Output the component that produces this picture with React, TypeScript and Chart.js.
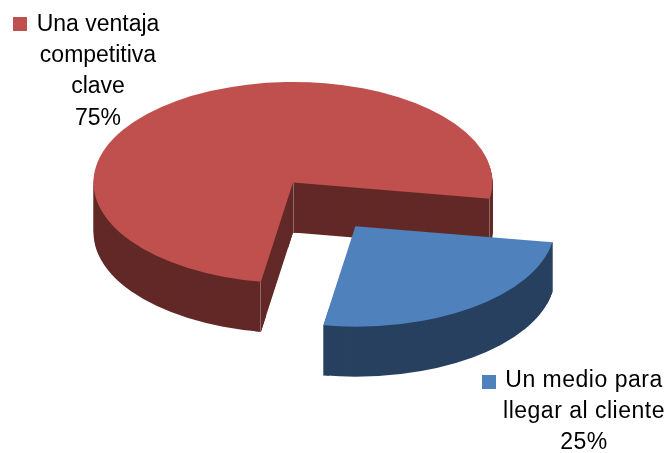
import React, { useEffect, useRef } from "react";
import { Chart, registerables } from "chart.js";

Chart.register(...registerables);

const categories = ["Una ventaja competitiva clave", "Un medio para llegar al cliente"];
const labelLines = [
  ["Una ventaja", "competitiva", "clave"],
  ["Un medio para", "llegar al cliente"],
];
const seriesValues = [75, 25];
const topColors = ["#C0504D", "#4F81BD"];
const sideColors = ["#612826", "#27405F"];

const FONT = '23px "Liberation Sans", Arial, sans-serif';
const CENTER_Y = 182.5;
const SQUASH = 0.5038;
const DEPTH = 50;
const STEP = 4;

const flatten = (ctx: CanvasRenderingContext2D, chart: any, dy: number) => {
  const a = chart.chartArea;
  const cy = (a.top + a.bottom) / 2;
  ctx.translate(0, CENTER_Y + dy);
  ctx.scale(1, SQUASH);
  ctx.translate(0, -cy);
};

const pie3d = {
  id: "pie3d",
  beforeDatasetDraw(chart: any, args: any) {
    const ctx = chart.ctx as CanvasRenderingContext2D;
    const arcs = args.meta.data;
    arcs.forEach((arc: any, i: number) => {
      const own = arc.options;

      const mid = (arc.startAngle + arc.endAngle) / 2;
      const off = (own.offset || 0) / 4;
      const ox = arc.x + Math.cos(mid) * off;
      const oy = Math.sin(mid) * off * SQUASH + CENTER_Y;
      const r = arc.outerRadius;
      const start = [ox + Math.cos(arc.startAngle) * r, oy + Math.sin(arc.startAngle) * r * SQUASH];
      const end = [ox + Math.cos(arc.endAngle) * r, oy + Math.sin(arc.endAngle) * r * SQUASH];
      const corners = i === 0 ? [[ox, oy], start, end] : [start, end];

      arc.options = { ...own, backgroundColor: sideColors[i], borderColor: sideColors[i] };
      // few copies, stacked underneath, so that opaque pixels are not re-blended
      for (let d = DEPTH % STEP || STEP; d <= DEPTH; d += STEP) {
        ctx.save();
        ctx.globalCompositeOperation = "destination-over";
        flatten(ctx, chart, d);
        arc.draw(ctx);
        ctx.restore();
      }
      // the sharp tips need every pixel step, in narrow bands around the corners
      corners.forEach(([x]) => {
        ctx.save();
        ctx.beginPath();
        ctx.rect(Math.floor(x) - 5, 0, 11, chart.height);
        ctx.clip();
        ctx.globalCompositeOperation = "destination-over";
        for (let d = 1; d <= DEPTH; d += 1) {
          ctx.save();
          flatten(ctx, chart, d);
          arc.draw(ctx);
          ctx.restore();
        }
        ctx.restore();
      });
      arc.options = own;

      // vertical corners of the slice wall: a solid edge with a thin highlight
      ctx.save();
      ctx.lineWidth = 1;
      [sideColors[i], "rgba(255,255,255,0.3)"].forEach((colour) => {
        ctx.strokeStyle = colour;
        corners.forEach(([x, y]) => {
          ctx.beginPath();
          ctx.moveTo(Math.floor(x) + 0.5, y);
          ctx.lineTo(Math.floor(x) + 0.5, y + DEPTH);
          ctx.stroke();
        });
      });
      ctx.restore();

      ctx.save();
      flatten(ctx, chart, 0);
      arc.draw(ctx);
      ctx.restore();
    });
    return false;
  },
  afterDraw(chart: any) {
    const ctx = chart.ctx as CanvasRenderingContext2D;
    const boxes = [
      { key: [13, 17], cx: 98, base: 31, spacing: "0px" },
      { key: [482, 375], cx: 584, base: 387, spacing: "0.5px" },
    ];
    ctx.save();
    ctx.font = FONT;
    ctx.textAlign = "center";
    ctx.textBaseline = "alphabetic";
    boxes.forEach((b, i) => {
      ctx.fillStyle = topColors[i];
      ctx.fillRect(b.key[0], b.key[1], 14, 14);
      ctx.fillStyle = "#000000";
      (ctx as any).letterSpacing = b.spacing;
      const lines = [...labelLines[i], seriesValues[i] + "%"];
      lines.forEach((t, j) => ctx.fillText(t, b.cx, b.base + j * 31.2));
    });
    ctx.restore();
  },
};

export default function App() {
  const ref = useRef<HTMLCanvasElement>(null);
  useEffect(() => {
    const chart = new Chart(ref.current!, {
      type: "pie",
      data: {
        labels: categories,
        datasets: [
          {
            data: seriesValues,
            backgroundColor: topColors,
            borderWidth: 0,
            offset: [0, 427],
            clip: false,
          } as any,
        ],
      },
      options: {
        responsive: false,
        animation: false,
        rotation: 189.25,
        radius: 199.5,
        layout: { padding: { right: 80 } },
        plugins: { legend: { display: false }, tooltip: { enabled: false } },
      } as any,
      plugins: [pie3d],
    });
    return () => chart.destroy();
  }, []);
  return (
    <canvas
      ref={ref}
      width={666}
      height={453}
      style={{ position: "absolute", left: 0, top: 0, width: 666, height: 453, display: "block" }}
    />
  );
}
